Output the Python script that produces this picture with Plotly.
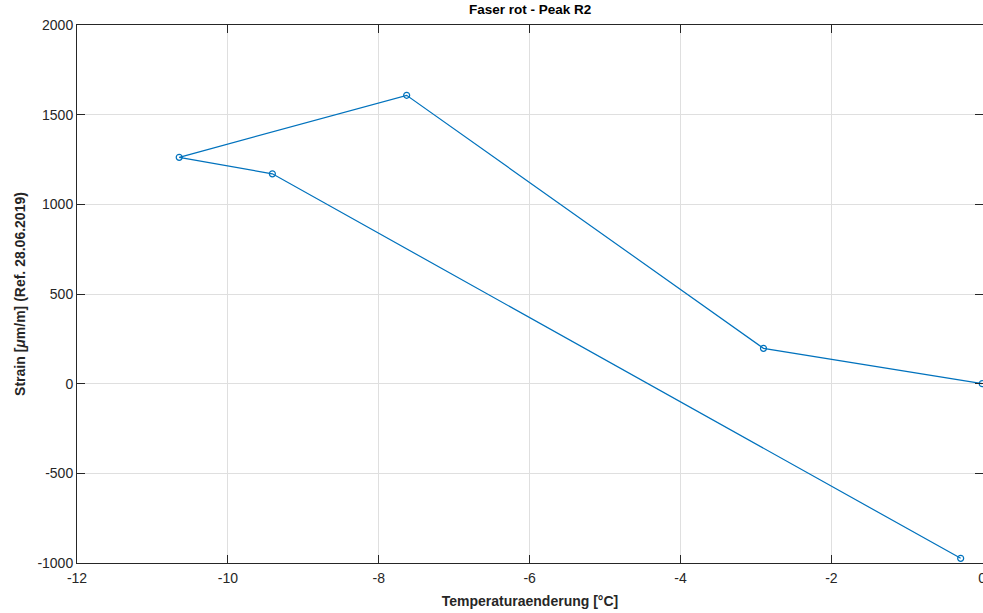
import plotly.graph_objects as go

temp_change = [0.0, -2.9, -7.63, -10.645, -9.41, -0.286]
strain = [0, 197, 1608, 1262, 1170, -974]

x_ticks = [-12, -10, -8, -6, -4, -2, 0]
y_ticks = [-1000, -500, 0, 500, 1000, 1500, 2000]

font_family = "Liberation Sans, Arial, Helvetica, sans-serif"
axis_col = "#262626"

fig = go.Figure()
fig.add_trace(go.Scatter(
    x=temp_change, y=strain, mode="lines+markers",
    line=dict(color="#0072BD", width=1.2),
    marker=dict(symbol="circle-open", size=6, color="#0072BD", line=dict(width=1.2)),
    cliponaxis=False, showlegend=False,
))

fig.update_layout(
    width=983, height=613, autosize=False,
    margin=dict(l=77, r=0, t=25, b=50, autoexpand=False),
    paper_bgcolor="white", plot_bgcolor="white",
    font=dict(family=font_family, size=14, color=axis_col),
    title=dict(text="<b>Faser rot - Peak R2</b>", x=0.5393, xanchor="center",
               y=0.992, yanchor="top", font=dict(size=13.5, color="black")),
)
fig.update_xaxes(
    range=[-12, 0.01], tickvals=x_ticks, ticktext=[str(v) for v in x_ticks],
    showgrid=True, gridcolor="#dfdfdf", gridwidth=1, zeroline=False,
    showline=True, linecolor=axis_col, linewidth=1, mirror="ticks",
    ticks="inside", ticklen=8, tickcolor=axis_col, tickwidth=1,
    ticklabelstandoff=2, ticklabeloverflow="allow", automargin=False,
    title=dict(text="<b>Temperaturaenderung [°C]</b>", standoff=11,
               font=dict(size=14, color=axis_col)),
    tickfont=dict(size=14, color=axis_col),
)
fig.update_yaxes(
    range=[-1000, 2000], tickvals=y_ticks, ticktext=[str(v) for v in y_ticks],
    showgrid=True, gridcolor="#dfdfdf", gridwidth=1, zeroline=False,
    showline=True, linecolor=axis_col, linewidth=1, mirror="ticks",
    ticks="inside", ticklen=8, tickcolor=axis_col, tickwidth=1,
    title=dict(text="<b>Strain [<i>μ</i>m/m] (Ref. 28.06.2019)</b>", standoff=8,
               font=dict(size=14, color=axis_col)),
    tickfont=dict(size=14, color=axis_col),
)

fig.write_html(
    "out.html",
    config={"displayModeBar": False},
    post_script="document.body.style.margin='0';document.body.style.overflow='hidden';",
)
